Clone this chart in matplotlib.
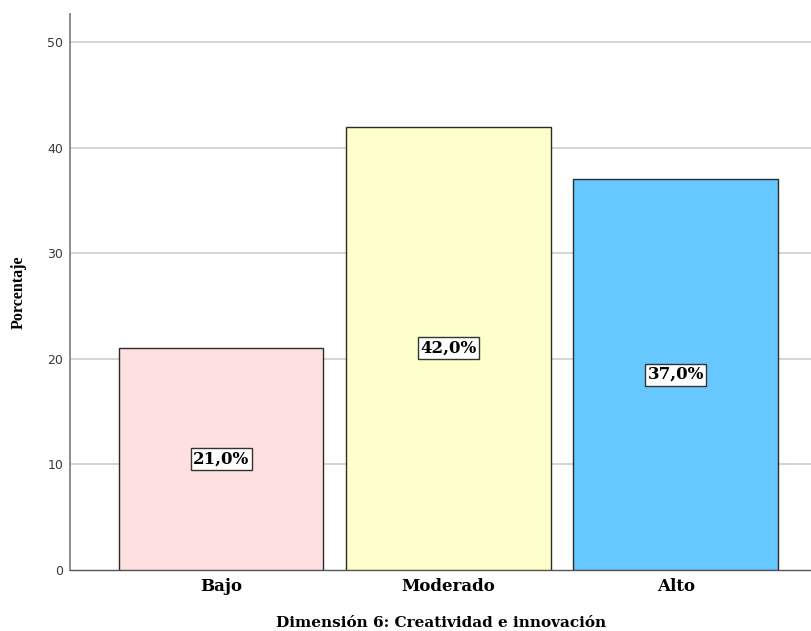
import matplotlib
matplotlib.use("Agg")
import matplotlib.pyplot as plt
import numpy as np

# data
categorias = ["Bajo", "Moderado", "Alto"]
porcentajes = [21.0, 42.0, 37.0]
colores = ["#FFE0E0", "#FFFFCC", "#66C8FF"]
y_ticks = [0, 10, 20, 30, 40, 50]

serif = ["DejaVu Serif"]

fig = plt.figure(figsize=(8.12, 6.31), dpi=100)
ax = fig.add_axes([70/812, 1-569.7/631, 1-70/812, (569.7-14)/631])

x = np.arange(len(categorias))
bars = ax.bar(x, porcentajes, width=0.9, color=colores, edgecolor="#2b2b2b", linewidth=1.0, zorder=3)

# value labels in boxes
for xi, v in zip(x, porcentajes):
    ax.text(xi, v/2, f"{v:.1f}%".replace(".", ","), ha="center", va="center",
            fontfamily=serif, fontweight="bold", fontsize=12, zorder=4,
            bbox=dict(boxstyle="square,pad=0.15", facecolor="white", edgecolor="#333333", linewidth=1.0))

ax.set_xlim(-0.665, 2.6)
ax.set_ylim(0, 52.67)
ax.set_yticks(y_ticks)
ax.set_xticks(x)
ax.set_xticklabels(categorias, fontfamily=serif, fontweight="bold", fontsize=12)
ax.tick_params(axis="x", length=0, pad=6)
ax.tick_params(axis="y", length=0, pad=5, labelsize=9, labelcolor="#3a3a3a")

ax.grid(axis="y", color="#D4D4D4", linewidth=1.4, zorder=0)
for t in ax.yaxis.get_gridlines()[:1]:
    t.set_visible(False)

for s in ["top", "right"]:
    ax.spines[s].set_visible(False)
ax.spines["left"].set_color("#8c8c8c")
ax.spines["left"].set_linewidth(1.4)
ax.spines["bottom"].set_color("#555555")
ax.spines["bottom"].set_linewidth(1.0)

ax.set_ylabel("Porcentaje", fontfamily="Liberation Serif", fontweight="bold", fontsize=11.5, labelpad=15)
ax.set_xlabel("Dimensión 6: Creatividad e innovación", fontfamily=serif, fontweight="bold", fontsize=11, labelpad=15)

fig.savefig("out.png", dpi=100)
